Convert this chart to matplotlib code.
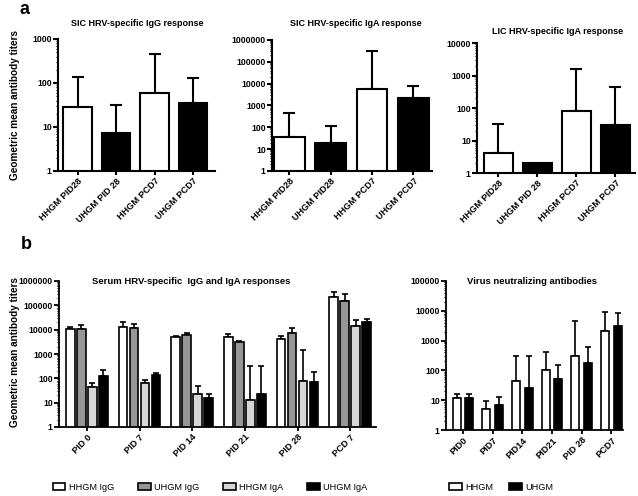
import numpy as np
import matplotlib.pyplot as plt
from matplotlib.ticker import LogLocator, FuncFormatter, NullFormatter

# ---- data ----
a_labels1 = ["HHGM PID28", "UHGM PID 28", "HHGM PCD7", "UHGM PCD7"]
a_labels2 = ["HHGM PID28", "UHGM PID28", "HHGM PCD7", "UHGM PCD7"]
a_labels3 = ["HHGM PID28", "UHGM PID 28", "HHGM PCD7", "UHGM PCD7"]
a_colors = ["white", "black", "white", "black"]

sic_igg = [29, 7.4, 58, 36]
sic_igg_err = [135, 32, 460, 128]
sic_iga = [38, 20, 5600, 2100]
sic_iga_err = [475, 117, 325000, 8000]
lic_iga = [4.1, 2, 81, 30]
lic_iga_err = [32, 2, 1630, 450]

groups = ["PID 0", "PID 7", "PID 14", "PID 21", "PID 28", "PCD 7"]
serum_names = ["HHGM IgG", "UHGM IgG", "HHGM IgA", "UHGM IgA"]
serum_colors = ["white", "#969696", "#d6d6d6", "black"]
hhgm_igg = [10400, 13000, 4900, 5200, 4150, 225000]
hhgm_igg_err = [12500, 20000, 5700, 6600, 5700, 360000]
uhgm_igg = [10400, 11700, 6000, 3150, 7550, 150000]
uhgm_igg_err = [15500, 16500, 7100, 3450, 11400, 280000]
hhgm_iga = [44, 67, 23, 13, 79, 14500]
hhgm_iga_err = [67, 87, 49, 330, 1450, 25000]
uhgm_iga = [127, 135, 15.5, 22, 70, 20000]
uhgm_iga_err = [222, 163, 22, 330, 185, 27500]

vn_groups = ["PID0", "PID7", "PID14", "PID21", "PID 28", "PCD7"]
vn_names = ["HHGM", "UHGM"]
vn_colors = ["white", "black"]
vn_hhgm = [12, 4.9, 43, 105, 310, 2100]
vn_hhgm_err = [16, 9.3, 316, 430, 4600, 9300]
vn_uhgm = [12, 6.8, 25, 53, 177, 3100]
vn_uhgm_err = [16, 12.6, 295, 155, 590, 8200]

FONT = ["Liberation Sans", "DejaVu Sans"]

W, H = 638, 496
fig = plt.figure(figsize=(W / 100, H / 100), dpi=100)


def add_ax(x0, ytop, x1, ybot):
    return fig.add_axes([x0 / W, 1 - ybot / H, (x1 - x0) / W, (ybot - ytop) / H])


def ftext(x, y, s, **kw):
    fig.text(x / W, 1 - y / H, s, **kw)


def style_log(ax, top, lw=1.3):
    ax.set_yscale("log")
    ax.set_ylim(1, top)
    ax.yaxis.set_major_locator(LogLocator(base=10, numticks=20))
    ax.yaxis.set_minor_locator(LogLocator(base=10, subs=np.arange(2, 10), numticks=20))
    ax.yaxis.set_major_formatter(FuncFormatter(lambda v, p: f"{int(round(v))}"))
    ax.yaxis.set_minor_formatter(NullFormatter())
    for s in ["top", "right"]:
        ax.spines[s].set_visible(False)
    for s in ["left", "bottom"]:
        ax.spines[s].set_linewidth(lw)
    ax.tick_params(axis="y", which="major", length=3.5, width=lw, pad=1)
    ax.tick_params(axis="y", which="minor", length=1.8, width=0.8)
    ax.tick_params(axis="x", length=3, width=lw, pad=1)
    for t in ax.get_yticklabels():
        t.set_fontfamily(FONT)
        t.set_fontweight("bold")
        t.set_fontsize(6.2)


def upper_err(ax, x, vals, tops, cap, lw):
    vals = np.array(vals, float)
    tops = np.array(tops, float)
    ax.errorbar(x, vals, yerr=[np.zeros_like(vals), tops - vals], fmt="none",
                ecolor="black", elinewidth=lw, capsize=cap, capthick=lw, zorder=1)


def set_xlabels(ax, x, labels, size=6.6):
    ax.set_xticks(x)
    ax.set_xticklabels(labels, rotation=45, ha="right", rotation_mode="anchor",
                       fontsize=size, fontweight="bold", family=FONT)


# ---- panel a ----
a_specs = [
    ((58, 39, 215, 171), 1000, sic_igg, sic_igg_err, a_labels1, -0.51, 3.57,
     "SIC HRV-specific IgG response", (137, 24)),
    ((272, 40, 432, 171), 1e6, sic_iga, sic_iga_err, a_labels2, -0.42, 3.45,
     "SIC HRV-specific IgA response", (356, 24)),
    ((477, 43, 635, 173), 10000, lic_iga, lic_iga_err, a_labels3, -0.54, 3.5,
     "LIC HRV-specific IgA response", (558, 32)),
]
for box, top, vals, errs, labels, xl, xr, title, tpos in a_specs:
    ax = add_ax(*box)
    x = np.arange(len(vals))
    ax.bar(x, vals, width=0.74, color=a_colors, edgecolor="black", linewidth=1.5, zorder=2)
    keep = [i for i in range(len(vals)) if errs[i] > vals[i]]
    upper_err(ax, x[keep], [vals[i] for i in keep], [errs[i] for i in keep], 4.5, 1.5)
    ax.set_xlim(xl, xr)
    style_log(ax, top, lw=1.5)
    set_xlabels(ax, x, labels)
    ftext(tpos[0], tpos[1], title, ha="center", va="center", fontsize=6.5,
          fontweight="bold", family=FONT)

# ---- panel b, serum ----
ax = add_ax(59, 281, 376, 427)
x = np.arange(len(groups))
serum_vals = [hhgm_igg, uhgm_igg, hhgm_iga, uhgm_iga]
serum_errs = [hhgm_igg_err, uhgm_igg_err, hhgm_iga_err, uhgm_iga_err]
slot = 0.21
handles = []
for k in range(4):
    xs = x + (k - 1.5) * slot
    b = ax.bar(xs, serum_vals[k], width=0.165, color=serum_colors[k], edgecolor="black",
               linewidth=1.2, zorder=2, label=serum_names[k])
    handles.append(b)
    upper_err(ax, xs, serum_vals[k], serum_errs[k], 2.0, 1.2)
ax.set_xlim(-0.53, 5.49)
style_log(ax, 1e6)
set_xlabels(ax, x, groups)
ftext(191, 281, "Serum HRV-specific  IgG and IgA responses", ha="center", va="center",
      fontsize=6.8, fontweight="bold", family=FONT)
fig.legend(handles=handles, loc="center", bbox_to_anchor=(210 / W, 1 - 487 / H), ncol=4,
           frameon=False, prop={"family": FONT, "size": 6.6}, handlelength=1.4,
           handleheight=0.8, handletextpad=0.35, columnspacing=2.6)

# ---- panel b, virus neutralizing ----
ax = add_ax(446, 281, 623, 430)
x = np.arange(len(vn_groups))
vn_vals = [vn_hhgm, vn_uhgm]
vn_errs = [vn_hhgm_err, vn_uhgm_err]
handles = []
for k in range(2):
    xs = x + (k - 0.5) * 0.42
    b = ax.bar(xs, vn_vals[k], width=0.27, color=vn_colors[k], edgecolor="black",
               linewidth=1.2, zorder=2, label=vn_names[k])
    handles.append(b)
    upper_err(ax, xs, vn_vals[k], vn_errs[k], 2.0, 1.2)
ax.set_xlim(-0.57, 5.39)
style_log(ax, 1e5)
set_xlabels(ax, x, vn_groups)
ftext(532, 281, "Virus neutralizing antibodies", ha="center", va="center",
      fontsize=6.8, fontweight="bold", family=FONT)
fig.legend(handles=handles, loc="center", bbox_to_anchor=(501 / W, 1 - 487 / H), ncol=2,
           frameon=False, prop={"family": FONT, "size": 6.6}, handlelength=1.4,
           handleheight=0.8, handletextpad=0.35, columnspacing=1.8)

# ---- panel letters and y labels ----
ftext(24, 9, "a", ha="center", va="center", fontsize=13, fontweight="bold", family=FONT)
ftext(26, 245, "b", ha="center", va="center", fontsize=13, fontweight="bold", family=FONT)
ftext(15, 105, "Geometric mean antibody titers", rotation=90, ha="center", va="center",
      fontsize=7.2, fontweight="bold", family=FONT)
ftext(15, 352, "Geometric mean antibody titers", rotation=90, ha="center", va="center",
      fontsize=7.2, fontweight="bold", family=FONT)

fig.savefig("out.png", dpi=100)
